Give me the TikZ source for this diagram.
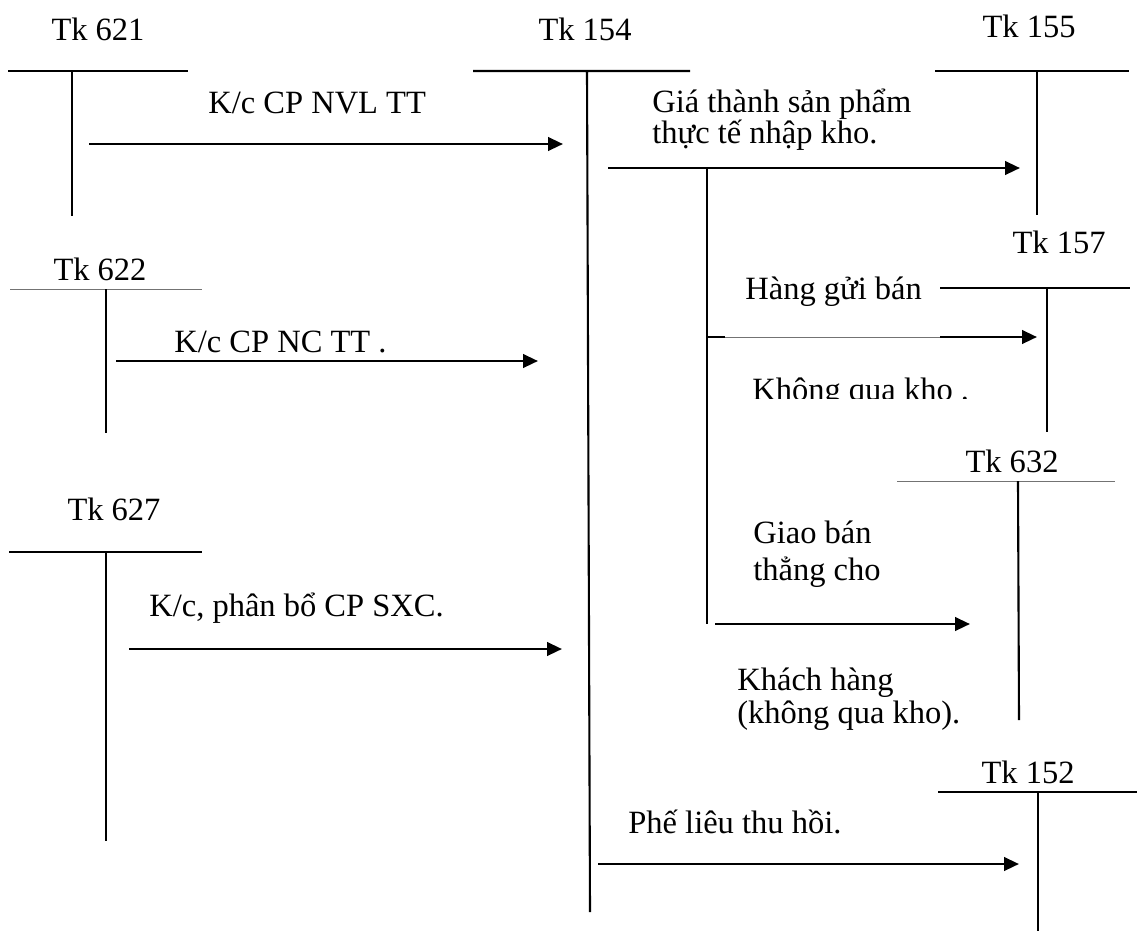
\documentclass[tikz,border=0pt]{standalone}
\usepackage{fontspec}
\setmainfont{Liberation Serif}
\usetikzlibrary{arrows.meta}

\begin{document}
\begin{tikzpicture}[x=0.02cm,y=-0.02cm,
  every node/.style={font=\fontsize{18.5}{20}\selectfont,inner sep=0pt},
  tk/.style={anchor=base},
  txt/.style={anchor=base west},
  tline/.style={line width=1.2pt},
  gline/.style={line width=0.5pt,black!55},
  arr/.style={line width=1.5pt,-{Triangle[length=0.3cm,width=0.27cm]}}]
\useasboundingbox (0,0) rectangle (1137,931);

% tai khoan chu T
\node[tk] (tk621) at (98,40) {Tk 621};
\draw[tline] (8,71) -- (188,71) (72,71) -- (72,216);
\node[tk] (tk154) at (585,40) {Tk 154};
\draw[tline] (473,71) -- (690,71) (587,71) -- (590,912);
\node[tk] (tk155) at (1029,37) {Tk 155};
\draw[tline] (935,71) -- (1129,71) (1037,71) -- (1037,215);
\node[tk] (tk157) at (1059,253) {Tk 157};
\draw[tline] (940,288) -- (1130,288) (1047,288) -- (1047,432);
\node[tk] (tk622) at (100,280) {Tk 622};
\draw[gline] (10,289) -- (202,289);
\draw[tline] (106,289) -- (106,433);
\node[tk] (tk627) at (114,520) {Tk 627};
\draw[tline] (9,552) -- (202,552) (106,552) -- (106,841);
\node[tk] (tk632) at (1012,472) {Tk 632};
\draw[gline] (897,481) -- (1115,481);
\draw[tline] (1018,481) -- (1019,720);
\node[tk] (tk152) at (1028,783) {Tk 152};
\draw[tline] (938,792) -- (1137,792) (1038,792) -- (1038,931);

% diem dau, diem cuoi mui ten
\coordinate (s621) at (89,144);  \coordinate (e621) at (563,144);
\coordinate (s622) at (116,361); \coordinate (e622) at (538,361);
\coordinate (s627) at (129,649); \coordinate (e627) at (562,649);
\coordinate (s155) at (608,168); \coordinate (e155) at (1020,168);
\coordinate (nhanh) at (707,168); \coordinate (nhanhb) at (707,624);
\coordinate (s157) at (707,337); \coordinate (m157a) at (725,337);
\coordinate (m157b) at (940,337); \coordinate (e157) at (1037,337);
\coordinate (s632) at (715,624); \coordinate (e632) at (970,624);
\coordinate (s152) at (598,864); \coordinate (e152) at (1019,864);

\draw[arr] (s621) -- (e621);
\draw[arr] (s622) -- (e622);
\draw[arr] (s627) -- (e627);
\draw[arr] (s155) -- (e155);
\draw[tline] (nhanh) -- (nhanhb);
\draw[gline] (m157a) -- (m157b);
\draw[tline] (s157) -- (m157a);
\draw[arr] (m157b) -- (e157);
\draw[arr] (s632) -- (e632);
\draw[arr] (s152) -- (e152);

% dien giai
\node[txt] (nvl) at (208,113) {K/c CP NVL TT};
\node[txt] (nc) at (174,352) {K/c CP NC TT .};
\node[txt] (sxc) at (149,616) {K/c, phân bổ CP SXC.};
\node[txt] (gt1) at (652,112) {Giá thành sản phẩm};
\node[txt] (gt2) at (652,143) {thực tế nhập kho.};
\node[txt] (hgb) at (745,299) {Hàng gửi bán};
\begin{scope}
\clip (740,360) rectangle (990,398);
\node[txt] (kqk) at (752,400) {Không qua kho .};
\end{scope}
\node[txt] (gb1) at (753,543) {Giao bán};
\node[txt] (gb2) at (753,580) {thẳng cho};
\node[txt] (kh1) at (737,690) {Khách hàng};
\node[txt] (kh2) at (737,723) {(không qua kho).};
\node[txt] (pl) at (628,833) {Phế liêu thu hồi.};
\end{tikzpicture}
\end{document}
